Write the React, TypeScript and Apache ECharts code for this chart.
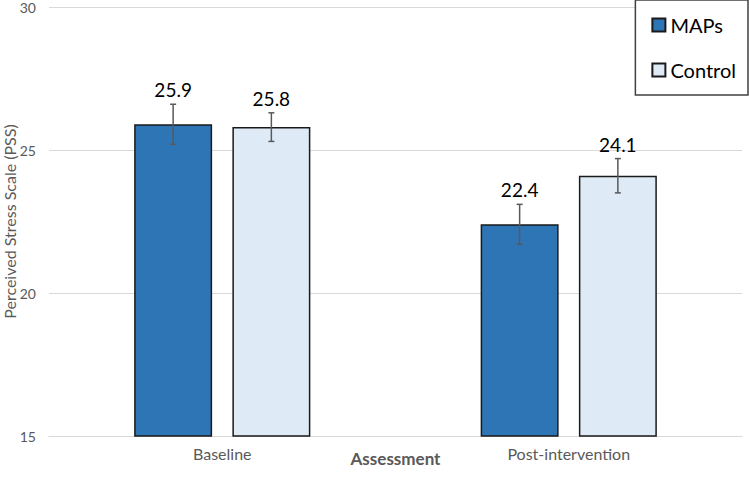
import React, { useEffect, useRef } from "react";
import * as echarts from "echarts";

const categories = ["Baseline", "Post-intervention"];
const mapsValues = [25.9, 22.4];
const controlValues = [25.8, 24.1];
const mapsErrors = [0.7, 0.7];
const controlErrors = [0.5, 0.6];
const seriesNames = ["MAPs", "Control"];

const FONT = "Lato, 'Open Sans', sans-serif";

export default function App() {
  const ref = useRef<HTMLDivElement>(null);
  useEffect(() => {
    if (!ref.current) return;
    const chart = echarts.init(ref.current, undefined, { renderer: "svg" });
    const barGap = "26%";
    const barWidth = "22.5%";
    const makeErr = (vals: number[], errs: number[], idx: number) => ({
      type: "custom",
      name: seriesNames[idx] + " err",
      z: 5,
      data: vals.map((v, i) => [i, v, errs[i]]),
      renderItem: (params: any, api: any) => {
        const ci = api.value(0);
        const v = api.value(1);
        const e = api.value(2);
        const size = api.size([1, 0]);
        const bw = size[0] * 0.225;
        const gap = bw * 0.26;
        const c = api.coord([ci, v]);
        const offset = idx === 0 ? -(gap / 2 + bw / 2) : gap / 2 + bw / 2;
        const x = c[0] + offset;
        const top = api.coord([ci, v + e])[1];
        const bot = api.coord([ci, v - e])[1];
        const style = { stroke: "#595959", lineWidth: 1.5 };
        return {
          type: "group",
          children: [
            { type: "line", shape: { x1: x, y1: top, x2: x, y2: bot }, style },
            { type: "line", shape: { x1: x - 3, y1: top, x2: x + 3, y2: top }, style },
            { type: "line", shape: { x1: x - 3, y1: bot, x2: x + 3, y2: bot }, style },
            {
              type: "text",
              x: x,
              y: top - 5,
              style: {
                text: v.toFixed(1),
                fill: "#000",
                fontSize: 19,
                fontFamily: FONT,
                align: "center",
                verticalAlign: "bottom",
              },
            },
          ],
        };
      },
    });
    chart.setOption({
      animation: false,
      textStyle: { fontFamily: FONT },
      grid: { left: 49, right: 7, top: 7, bottom: 46, containLabel: false, outerBoundsMode: "none" },
      legend: {
        data: seriesNames,
        orient: "vertical",
        right: 1,
        top: 0,
        padding: [15, 12, 15, 16],
        itemGap: 25,
        itemWidth: 13,
        itemHeight: 13,
        icon: "rect",
        borderColor: "#404040",
        borderWidth: 1.5,
        backgroundColor: "#fff",
        textStyle: { fontSize: 20, color: "#000", fontFamily: FONT, width: 80 },
      },
      xAxis: {
        type: "category",
        data: categories,
        name: "Assessment",
        nameLocation: "middle",
        nameGap: 22,
        nameMoveOverlap: false,
        nameTextStyle: { fontSize: 17, fontWeight: "bold", color: "#595959", fontFamily: FONT, verticalAlign: "middle" },
        axisLine: { lineStyle: { color: "#d9d9d9" } },
        axisTick: { show: false },
        axisLabel: { fontSize: 16, color: "#595959", margin: 9 },
      },
      yAxis: {
        type: "value",
        min: 15,
        max: 30,
        interval: 5,
        name: "Perceived Stress Scale (PSS)",
        nameLocation: "middle",
        nameGap: 32,
        nameMoveOverlap: false,
        nameTextStyle: { fontSize: 16, color: "#595959", fontFamily: FONT },
        axisLine: { show: false },
        axisTick: { show: false },
        axisLabel: { fontSize: 14, color: "#595959", margin: 13 },
        splitLine: { lineStyle: { color: "#d9d9d9" } },
      },
      series: [
        {
          type: "bar",
          name: seriesNames[0],
          data: mapsValues,
          barWidth,
          barGap,
          itemStyle: { color: "#2E75B6", borderColor: "#1a1a1a", borderWidth: 1.5 },
        },
        {
          type: "bar",
          name: seriesNames[1],
          data: controlValues,
          barWidth,
          barGap,
          itemStyle: { color: "#DEEBF7", borderColor: "#1a1a1a", borderWidth: 1.5 },
        },
        makeErr(mapsValues, mapsErrors, 0),
        makeErr(controlValues, controlErrors, 1),
      ],
    });
    return () => chart.dispose();
  }, []);
  return <div ref={ref} style={{ width: 749, height: 482, position: "absolute", left: 0, top: 0 }} />;
}
